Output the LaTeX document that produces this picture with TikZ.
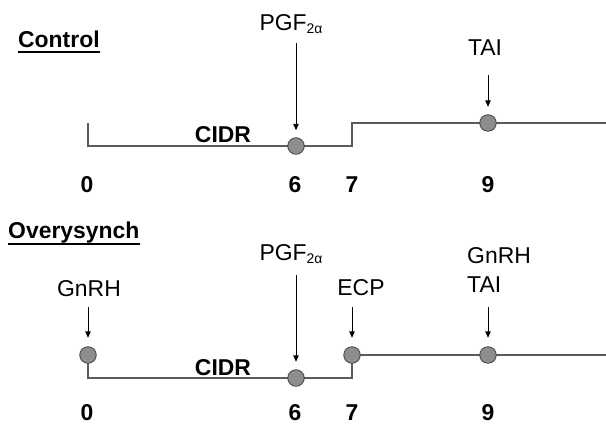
\documentclass[tikz,border=0pt]{standalone}
\usepackage{fontspec}
\setmainfont{Liberation Sans}
\usetikzlibrary{arrows.meta}
\definecolor{linegray}{HTML}{5A5A5A}
\definecolor{dotfill}{HTML}{8E8E8E}
\definecolor{dotdraw}{HTML}{4A4A4A}
\begin{document}
\begin{tikzpicture}[x=1bp,y=-1bp,
  tl/.style={draw=linegray,line width=1.3bp},
  dot/.style={circle,fill=dotfill,draw=dotdraw,line width=0.9bp,minimum size=16.5bp,inner sep=0pt},
  lbl/.style={font=\fontsize{23}{27}\selectfont,inner sep=0pt,anchor=base},
  blbl/.style={font=\fontsize{23}{27}\selectfont\bfseries,inner sep=0pt,anchor=base},
  arr/.style={draw=black,line width=0.9bp,-{Triangle[length=6.5bp,width=5.5bp]}},
  uline/.style={draw=black,line width=2bp}]
\useasboundingbox (0,0) rectangle (606,424);
% ---------- Control ----------
\node[blbl,anchor=base west] (ctitle) at (18,47) {Control};
\draw[uline] ([yshift=-5bp]ctitle.base west) -- ([yshift=-5bp]ctitle.base east);
\coordinate (a0t) at (88,123);
\coordinate (a0) at (88,146);
\coordinate (a6) at (296,146);
\coordinate (a7b) at (352,146);
\coordinate (a7t) at (352,123);
\coordinate (a9) at (488,123);
\coordinate (aend) at (606,123);
\draw[tl] (a0t) -- (a0) -- (a6) -- (a7b) -- (a7t) -- (a9) -- (aend);
\node[dot] (d6) at (a6) {};
\node[dot] (d9) at (a9) {};
\node[lbl] (pgfA) at (291,30) {PGF\raisebox{-3bp}{\fontsize{14}{16}\selectfont 2α}};
\coordinate (pgfAs) at (296,43);
\draw[arr] (pgfAs) -- ([yshift=7bp]d6.north);
\node[lbl] (taiA) at (485,55) {TAI};
\coordinate (taiAs) at (488,75);
\draw[arr] (taiAs) -- ([yshift=7.5bp]d9.north);
\node[blbl] (cidrA) at (223,142) {CIDR};
\node[blbl] (n0A) at (87,192) {0};
\node[blbl] (n6A) at (295,192) {6};
\node[blbl] (n7A) at (352,192) {7};
\node[blbl] (n9A) at (488,192) {9};
% ---------- Overysynch ----------
\node[blbl,anchor=base west] (otitle) at (8,238) {Overysynch};
\draw[uline] ([yshift=-5.5bp]otitle.base west) -- ([yshift=-5.5bp]otitle.base east);
\coordinate (b0t) at (88,355);
\coordinate (b0) at (88,378);
\coordinate (b6) at (296,378);
\coordinate (b7b) at (352,378);
\coordinate (b7t) at (352,355);
\coordinate (b9) at (488,355);
\coordinate (bend) at (606,355);
\draw[tl] (b0t) -- (b0) -- (b6) -- (b7b) -- (b7t) -- (b9) -- (bend);
\node[dot] (e0) at (b0t) {};
\node[dot] (e6) at (b6) {};
\node[dot] (e7) at (b7t) {};
\node[dot] (e9) at (b9) {};
\node[lbl] (gnrhB) at (89,296) {GnRH};
\coordinate (gnrhBs) at (88,307);
\draw[arr] (gnrhBs) -- ([yshift=8.5bp]e0.north);
\node[lbl] (pgfB) at (291,260) {PGF\raisebox{-3bp}{\fontsize{14}{16}\selectfont 2α}};
\coordinate (pgfBs) at (296,275);
\draw[arr] (pgfBs) -- ([yshift=7.5bp]e6.north);
\node[lbl] (ecpB) at (361,295) {ECP};
\coordinate (ecpBs) at (352,307);
\draw[arr] (ecpBs) -- ([yshift=8.5bp]e7.north);
\node[lbl,anchor=base west] (gnrhB2) at (467,263) {GnRH};
\node[lbl,anchor=base west] (taiB) at (467,292) {TAI};
\coordinate (taiBs) at (488,307);
\draw[arr] (taiBs) -- ([yshift=8.5bp]e9.north);
\node[blbl] (cidrB) at (223,375) {CIDR};
\node[blbl] (n0B) at (87,420.5) {0};
\node[blbl] (n6B) at (295,420.5) {6};
\node[blbl] (n7B) at (352,420.5) {7};
\node[blbl] (n9B) at (488,420.5) {9};
\end{tikzpicture}
\end{document}
